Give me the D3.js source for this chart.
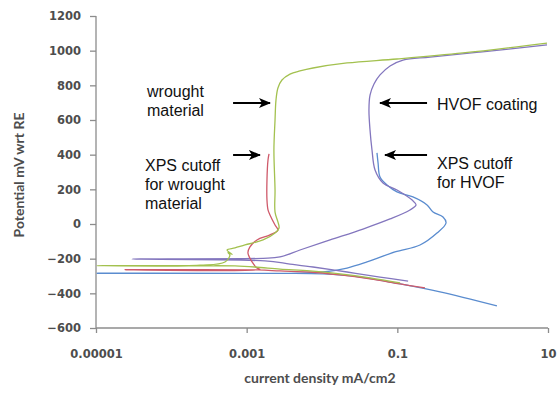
<!DOCTYPE html>
<html><head><meta charset="utf-8">
<script src="https://cdn.jsdelivr.net/npm/d3@7/dist/d3.min.js"></script>
<style>body{margin:0;background:#fff}svg{display:block}</style>
</head><body><svg id="c" width="560" height="401"></svg>
<script>
// ---- data (current density mA/cm2, potential mV) ----
const xTicks = [0.00001, 0.001, 0.1, 10];
const xTickLabels = ["0.00001", "0.001", "0.1", "10"];
const yTicks = [-600, -400, -200, 0, 200, 400, 600, 800, 1000, 1200];

const wroughtCurrent = [0.109,0.0434,0.0173,0.0069,0.00277,0.00129,0.0007,0.00024,0.0000103,0.00024,0.000515,0.0006,0.000565,0.00064,0.00055,0.0007,0.00095,0.00165,0.00238,0.00269,0.0026,0.00238,0.00238,0.0023,0.00238,0.00245,0.0026,0.00294,0.00376,0.0051,0.0076,0.0215,0.099,0.745,9.7];
const wroughtPotential = [-340,-311,-288,-271,-260,-248,-242,-241,-240,-238,-219,-179,-165,-175,-150,-138,-121,-92,-52,-23,12,69,196,427,600,715,785,831,865,883,900,929,952,987,1044];

const xpsWroughtCurrent = [0.233,0.109,0.0434,0.0173,0.0069,0.00277,0.00142,0.0000243,0.0015,0.00137,0.00118,0.00104,0.0011,0.00137,0.00204,0.0026,0.00238,0.00204,0.00192,0.00186,0.00186,0.00192,0.00198];
const xpsWroughtPotential = [-369,-346,-317,-294,-277,-271,-265,-264,-262,-254,-219,-167,-133,-92,-63,-35,-6,52,81,138,254,369,404];

const hvofCurrent = [0.139,0.0589,0.0215,0.0076,0.00376,0.00175,0.00003,0.00165,0.00277,0.0051,0.0128,0.035,0.08,0.147,0.177,0.157,0.099,0.0646,0.0506,0.0461,0.0434,0.042,0.0434,0.049,0.0589,0.08,0.119,0.272,1.25,9.7];
const hvofPotential = [-329,-306,-277,-248,-231,-213,-202,-198,-190,-150,-92,-29,29,81,110,138,196,237,312,427,542,658,744,808,860,912,946,963,992,1033];

const xpsHvofCurrent = [2.1,0.369,0.109,0.032,0.0103,0.00277,0.0000103,0.0051,0.0103,0.0215,0.0396,0.093,0.2,0.336,0.443,0.404,0.298,0.248,0.161,0.099,0.073,0.0589,0.0555,0.0537];
const xpsHvofPotential = [-473,-392,-346,-306,-288,-285,-284,-283,-277,-254,-219,-161,-121,-52,6,40,69,110,156,185,225,271,352,410];

const seriesNames = ["wrought material", "XPS cutoff for wrought material", "HVOF coating", "XPS cutoff for HVOF"];
const seriesColors = ["#a3c14f", "#cf5a6a", "#8376be", "#5a8ccf"];

// annotations: arrow [fromCurrent, toCurrent, potential]
const arrowFrom = [0.00066, 0.00066, 0.248, 0.248];
const arrowTo = [0.00204, 0.0015, 0.0589, 0.0686];
const arrowAt = [698, 398, 698, 398];

// ---- drawing ----
const svg = d3.select("#c");
const x = d3.scaleLog().domain([0.00001, 10]).range([96, 548]);
const y = d3.scaleLinear().domain([-600, 1200]).range([328, 16]);

const defs = svg.append("defs");
defs.append("marker").attr("id","ah").attr("viewBox","0 0 12 10").attr("refX",11).attr("refY",5)
  .attr("markerWidth",12).attr("markerHeight",10).attr("markerUnits","userSpaceOnUse").attr("orient","auto")
  .append("path").attr("d","M0,0 L12,5 L0,10 L3,5 Z").attr("fill","#000");

const axisColor = "#8c8c8c";
const labelColor = "#4d4d4d";

const yAxis = svg.append("g").attr("transform","translate(96,0)")
  .call(d3.axisLeft(y).tickValues(yTicks).tickSize(6).tickPadding(9).tickFormat(d3.format("d")));
const xAxis = svg.append("g").attr("transform","translate(0,328)")
  .call(d3.axisBottom(x).tickValues(xTicks).tickSize(5).tickPadding(17).tickFormat((d,i)=>xTickLabels[i]));
[yAxis, xAxis].forEach(g=>{
  g.select(".domain").attr("stroke",axisColor).attr("stroke-width",1.3);
  g.selectAll(".tick line").attr("stroke",axisColor).attr("stroke-width",1.3);
  g.selectAll("text").attr("fill",labelColor).attr("font-family","DejaVu Sans").attr("font-weight","bold").attr("font-size",11.5);
});
yAxis.select(".domain").attr("d","M0,328V16");
xAxis.select(".domain").attr("d","M96,0H548");

const line = d3.line().x(d=>x(d[0])).y(d=>y(d[1])).curve(d3.curveCatmullRom.alpha(0.5));
const sets = [
  [wroughtCurrent, wroughtPotential],
  [xpsWroughtCurrent, xpsWroughtPotential],
  [hvofCurrent, hvofPotential],
  [xpsHvofCurrent, xpsHvofPotential]
];
const drawOrder = [3, 2, 1, 0];
drawOrder.forEach(i=>{
  const pts = sets[i][0].map((c,k)=>[c, sets[i][1][k]]);
  svg.append("path").datum(pts).attr("d", line).attr("fill","none")
    .attr("stroke", seriesColors[i]).attr("stroke-width",1.3).attr("stroke-linejoin","round");
});

// arrows
arrowFrom.forEach((f,i)=>{
  svg.append("line").attr("x1",x(f)).attr("x2",x(arrowTo[i])).attr("y1",y(arrowAt[i])).attr("y2",y(arrowAt[i]))
    .attr("stroke","#000").attr("stroke-width",2).attr("marker-end","url(#ah)");
});

// annotation texts
const notes = [
  {t:"wrought", x:147, y:97}, {t:"material", x:147, y:116},
  {t:"XPS cutoff", x:145, y:171}, {t:"for wrought", x:145, y:190}, {t:"material", x:145, y:209},
  {t:"HVOF coating", x:437, y:110},
  {t:"XPS cutoff", x:437, y:169}, {t:"for HVOF", x:437, y:188}
];
notes.forEach(n=>svg.append("text").attr("x",n.x).attr("y",n.y).text(n.t)
  .attr("font-family","Liberation Sans, Arial").attr("font-size",16).attr("fill","#111"));

// axis titles
svg.append("text").attr("x",320).attr("y",383).attr("text-anchor","middle")
  .attr("font-family","Lato").attr("font-weight","bold").attr("font-size",14).attr("fill",labelColor)
  .text("current density mA/cm2");
svg.append("text").attr("transform","translate(24,175) rotate(-90)").attr("text-anchor","middle")
  .attr("font-family","Lato").attr("font-weight","bold").attr("font-size",14).attr("fill",labelColor)
  .text("Potential mV wrt RE");
</script></body></html>
